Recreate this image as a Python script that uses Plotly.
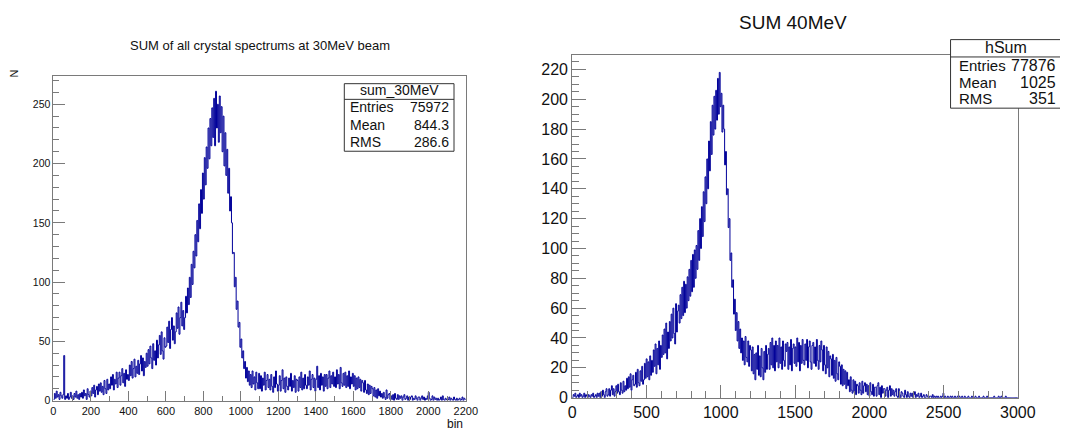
import plotly.graph_objects as go

# ---------------- data ----------------
# Left: "SUM of all crystal spectrums at 30MeV beam" (counts per bin, bins of 5 units from 0)
bin_width_30 = 5
counts_30 = [
    1, 6, 2, 8, 3, 5, 1, 7, 4, 2,
    5, 38, 1, 4, 2, 6, 1, 3, 7, 2,
    4, 1, 6, 3, 8, 2, 5, 1, 6, 3,
    7, 2, 9, 4, 6, 1, 10, 5, 3, 8,
    4, 11, 6, 13, 3, 9, 12, 5, 14, 8,
    15, 7, 12, 5, 17, 10, 6, 18, 9, 14,
    10, 20, 13, 22, 9, 18, 14, 24, 11, 19,
    24, 13, 21, 27, 15, 23, 12, 26, 18, 22,
    17, 30, 21, 33, 19, 27, 35, 20, 29, 23,
    34, 22, 31, 38, 25, 36, 21, 33, 28, 40,
    29, 43, 31, 46, 36, 27, 48, 34, 42, 30,
    51, 36, 47, 55, 39, 58, 42, 35, 53, 45,
    46, 62, 49, 67, 44, 60, 70, 51, 63, 48,
    58, 74, 61, 79, 56, 70, 83, 63, 76, 60,
    70, 88, 74, 95, 81, 104, 87, 115, 98, 126,
    112, 140, 122, 152, 134, 166, 145, 178, 158, 192,
    170, 205, 182, 214, 196, 230, 204, 238, 215, 247,
    222, 255, 215, 261, 230, 250, 218, 257, 226, 248,
    210, 240, 198, 226, 190, 212, 175, 196, 160, 172,
    150, 124, 125, 96, 104, 77, 84, 62, 66, 45,
    52, 36, 42, 27, 33, 19, 28, 16, 25, 13,
    22, 11, 25, 14, 20, 9, 24, 15, 10, 23,
    10, 21, 8, 19, 13, 24, 9, 17, 22, 11,
    18, 9, 22, 12, 7, 20, 11, 25, 14, 8,
    13, 21, 8, 17, 26, 10, 19, 7, 20, 12,
    9, 19, 12, 23, 8, 17, 11, 21, 7, 18,
    17, 8, 20, 11, 24, 9, 19, 10, 22, 13,
    10, 20, 13, 25, 9, 18, 22, 11, 19, 8,
    18, 29, 11, 21, 9, 23, 13, 20, 8, 22,
    12, 22, 10, 19, 25, 11, 21, 14, 24, 12,
    20, 11, 26, 14, 22, 10, 28, 15, 12, 23,
    13, 24, 11, 21, 12, 25, 10, 20, 14, 23,
    12, 21, 9, 19, 10, 20, 11, 18, 8, 17,
    15, 7, 17, 9, 6, 14, 5, 13, 6, 12,
    10, 4, 11, 3, 9, 2, 10, 4, 8, 3,
    6, 2, 7, 3, 1, 9, 2, 5, 6, 1,
    4, 1, 5, 0, 6, 2, 1, 5, 1, 4,
    2, 4, 0, 3, 5, 1, 2, 4, 0, 3,
    1, 3, 4, 0, 2, 1, 4, 2, 0, 3,
    3, 0, 2, 4, 1, 3, 0, 2, 1, 4,
    7, 2, 0, 1, 4, 0, 3, 1, 2, 0,
    2, 0, 1, 3, 0, 4, 1, 0, 2, 1,
    0, 1, 3, 0, 2, 1, 0, 3, 1, 0,
    2, 0, 1, 2, 0, 1, 3, 0, 2, 1,
]

# Right: "SUM 40MeV" (counts per bin, bins of 6 units from 0)
bin_width_40 = 6
counts_40 = [
    0, 2, 1, 3, 0, 1, 2, 0, 3, 1,
    2, 0, 1, 3, 0, 2, 1, 0, 2, 1,
    0, 2, 1, 3, 0, 1, 2, 0, 3, 1,
    3, 0, 4, 1, 5, 2, 0, 4, 6, 1,
    2, 6, 1, 5, 8, 2, 6, 1, 4, 8,
    3, 9, 4, 2, 10, 5, 3, 11, 4, 8,
    5, 13, 6, 14, 7, 16, 5, 12, 15, 8,
    9, 17, 7, 19, 10, 8, 18, 11, 21, 9,
    12, 23, 13, 26, 14, 24, 12, 28, 15, 25,
    17, 32, 21, 36, 16, 33, 22, 38, 19, 35,
    27, 42, 29, 46, 30, 50, 26, 44, 33, 51,
    38, 56, 40, 60, 43, 36, 63, 44, 58, 62,
    50, 69, 53, 74, 55, 78, 57, 76, 60, 81,
    65, 86, 68, 92, 71, 96, 74, 99, 80, 102,
    86, 112, 92, 120, 100, 128, 108, 138, 118, 148,
    130, 160, 140, 172, 152, 185, 163, 196, 176, 202,
    180, 206, 186, 214, 190, 218, 195, 204, 178, 196,
    180, 156, 165, 136, 140, 114, 120, 92, 97, 74,
    79, 56, 66, 45, 57, 38, 51, 33, 46, 30,
    40, 25, 38, 22, 41, 27, 24, 38, 21, 35,
    32, 18, 34, 16, 29, 12, 30, 19, 35, 15,
    28, 14, 33, 20, 12, 31, 17, 35, 19, 29,
    33, 19, 37, 22, 40, 20, 35, 18, 38, 24,
    35, 20, 40, 23, 34, 19, 38, 25, 21, 36,
    31, 37, 19, 34, 22, 39, 18, 33, 36, 23,
    34, 21, 40, 24, 37, 18, 35, 23, 39, 25,
    22, 36, 25, 39, 20, 34, 38, 24, 19, 35,
    37, 23, 34, 21, 39, 25, 19, 35, 24, 38,
    32, 18, 35, 22, 16, 34, 20, 31, 14, 28,
    26, 15, 29, 13, 25, 11, 27, 16, 12, 24,
    21, 9, 22, 8, 19, 9, 18, 6, 17, 8,
    12, 4, 14, 5, 3, 12, 4, 11, 2, 9,
    8, 3, 10, 5, 2, 11, 3, 8, 10, 4,
    9, 2, 8, 1, 10, 4, 2, 9, 1, 7,
    7, 1, 8, 10, 2, 7, 0, 8, 3, 6,
    6, 1, 5, 7, 0, 5, 8, 1, 6, 2,
    5, 1, 4, 6, 1, 0, 6, 2, 0, 4,
    3, 1, 0, 5, 2, 0, 4, 1, 0, 3,
    1, 3, 0, 2, 4, 0, 2, 1, 3, 0,
    1, 3, 0, 1, 2, 0, 0, 2, 1, 0,
    0, 1, 1, 0, 2, 0, 1, 0, 1, 0,
    1, 0, 0, 1, 0, 1, 3, 0, 1, 0,
    0, 1, 0, 0, 1, 0, 1, 0, 0, 1,
    0, 0, 1, 0, 1, 0, 0, 1, 0, 0,
    1, 0, 0, 0, 1, 0, 0, 0, 1, 0,
    0, 0, 1, 0, 0, 0, 1, 0, 0, 0,
    0, 1, 0, 0, 0, 1, 0, 0, 0, 0,
    0, 0, 0, 1, 0, 0, 0, 0, 1, 0,
    0, 1, 0, 0, 0, 0, 1, 0, 0, 0,
    0, 0, 0, 0, 0, 0, 0, 0, 0, 0,
]

stats_30_name = "sum_30MeV"
stats_30_labels = ["Entries", "Mean", "RMS"]
stats_30_values = ["75972", "844.3", "286.6"]
stats_40_name = "hSum"
stats_40_labels = ["Entries", "Mean", "RMS"]
stats_40_values = ["77876", "1025", "351"]

title_30 = "SUM of all crystal spectrums at 30MeV beam"
title_40 = "SUM 40MeV"

# ---------------- figure ----------------
W, H = 1068, 430
FONT = "Liberation Sans, Arial, Helvetica, sans-serif"
HCOL = "#000099"
FRAME = "#7a7a7a"


def px(x, y):
    return x / W, 1 - y / H


def step_xy(counts, bw):
    xs = [i * bw for i in range(len(counts) + 1)]
    ys = list(counts) + [counts[-1]]
    return xs, ys


fig = go.Figure()
x30, y30 = step_xy(counts_30, bin_width_30)
x40, y40 = step_xy(counts_40, bin_width_40)
fig.add_trace(go.Scatter(x=x30, y=y30, mode="lines", line_shape="hv",
                         line=dict(color=HCOL, width=1), xaxis="x", yaxis="y",
                         showlegend=False, hoverinfo="skip"))
fig.add_trace(go.Scatter(x=x40, y=y40, mode="lines", line_shape="hv",
                         line=dict(color=HCOL, width=1), xaxis="x2", yaxis="y2",
                         showlegend=False, hoverinfo="skip"))

# panel geometry in pixels
L = dict(x0=42.3, x1=463.3, y0=69.3, y1=401.0)
R = dict(x0=572.0, x1=1027.0, y0=47.5, y1=398.0)


def axis_common(size):
    return dict(showline=True, linecolor=FRAME, linewidth=1, mirror=True,
                ticks="inside", tickcolor=FRAME, showgrid=False, zeroline=False,
                tickfont=dict(family=FONT, size=size, color="#111"))


fig.update_layout(
    width=W, height=H, margin=dict(l=0, r=0, t=0, b=0),
    paper_bgcolor="white", plot_bgcolor="white",
    xaxis=dict(domain=[L["x0"] / W, L["x1"] / W], range=[0, 2200], anchor="y",
               dtick=200, ticklen=10,
               minor=dict(dtick=100, ticklen=5, ticks="inside", tickcolor=FRAME),
               **axis_common(11)),
    yaxis=dict(domain=[1 - L["y1"] / H, 1 - L["y0"] / H], range=[0, 274], anchor="x",
               dtick=50, ticklen=12,
               minor=dict(dtick=10, ticklen=6, ticks="inside", tickcolor=FRAME),
               **axis_common(10.5)),
    xaxis2=dict(domain=[R["x0"] / W, R["x1"] / W], range=[0, 3000], anchor="y2",
                dtick=500, ticklen=13,
                minor=dict(dtick=100, ticklen=7, ticks="inside", tickcolor=FRAME),
                **axis_common(16)),
    yaxis2=dict(domain=[1 - R["y1"] / H, 1 - R["y0"] / H], range=[0, 230], anchor="x2",
                dtick=20, ticklen=14,
                minor=dict(dtick=5, ticklen=7, ticks="inside", tickcolor=FRAME),
                **axis_common(16)),
)

shapes = []
annotations = []


def text(x, y, s, size, xanchor="center", angle=0):
    xx, yy = px(x, y)
    annotations.append(dict(x=xx, y=yy, xref="paper", yref="paper", text=s,
                            showarrow=False, xanchor=xanchor, yanchor="middle",
                            textangle=angle,
                            font=dict(family=FONT, size=size, color="#111")))


def box(x0, y0, x1, y1, yh):
    a0, b0 = px(x0, y0)
    a1, b1 = px(x1, y1)
    shapes.append(dict(type="rect", xref="paper", yref="paper", x0=a0, x1=a1,
                       y0=b1, y1=b0, line=dict(color="#333", width=1),
                       fillcolor="white", layer="above"))
    _, h = px(0, yh)
    shapes.append(dict(type="line", xref="paper", yref="paper", x0=a0, x1=a1,
                       y0=h, y1=h, line=dict(color="#333", width=1), layer="above"))


# titles
text(253, 38, title_30, 13)
text(797, 15, title_40, 19)
# axis titles (left panel)
text(2, 67, "N", 11, angle=-90)
text(463, 425, "bin", 12, xanchor="right")

# stats box left
box(339.3, 77.3, 451.3, 146.3, 93.3)
text(395.3, 83.8, stats_30_name, 14)
for i, (lab, val) in enumerate(zip(stats_30_labels, stats_30_values)):
    y = 101.5 + i * 17.5
    text(343.5, y, lab, 14, xanchor="left")
    text(448.0, y, val, 14, xanchor="right")

# stats box right (cut off at the page edge)
box(958.3, 32.3, 1075, 102.3, 50.0)
text(1015, 40.5, stats_40_name, 16)
for i, (lab, val) in enumerate(zip(stats_40_labels, stats_40_values)):
    y = 58.5 + i * 17.2
    text(965.0, y, lab, 15, xanchor="left")
    text(1068.5, y, val, 16, xanchor="right")

fig.update_layout(shapes=shapes, annotations=annotations)
fig.write_html("out.html")
